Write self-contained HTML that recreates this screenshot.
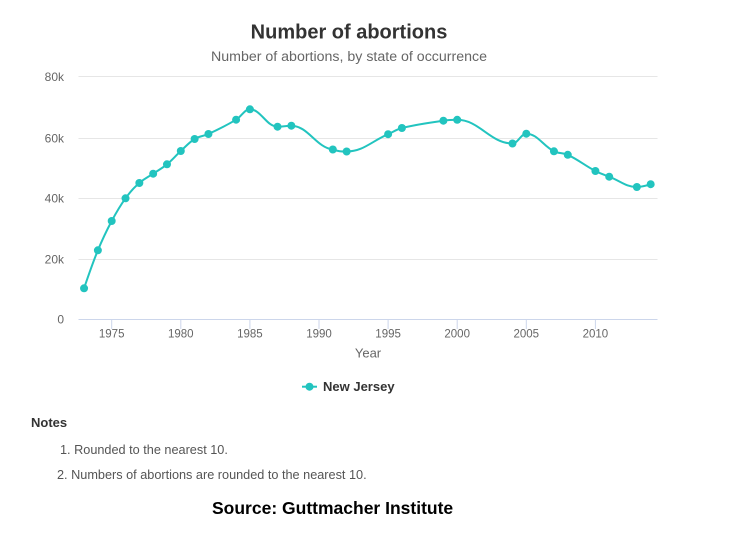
<!DOCTYPE html>
<html>
<head>
<meta charset="utf-8">
<style>
html,body{margin:0;padding:0;background:#fff;}
body{width:735px;height:534px;overflow:hidden;position:relative;font-family:"Liberation Sans",sans-serif;}
svg{position:absolute;left:0;top:0;}
</style>
</head>
<body>
<svg width="735" height="534" viewBox="0 0 735 534" xmlns="http://www.w3.org/2000/svg">
  <text x="349" y="38.3" text-anchor="middle" font-family="Liberation Sans, sans-serif" font-weight="bold" font-size="20" fill="#333">Number of abortions</text>
  <text x="349" y="61" text-anchor="middle" font-family="Liberation Sans, sans-serif" font-size="14.2" fill="#666">Number of abortions, by state of occurrence</text>

  <g stroke="#e6e6e6" stroke-width="1">
    <line x1="78.5" y1="76.5" x2="657.5" y2="76.5"/>
    <line x1="78.5" y1="138.5" x2="657.5" y2="138.5"/>
    <line x1="78.5" y1="198.5" x2="657.5" y2="198.5"/>
    <line x1="78.5" y1="259.5" x2="657.5" y2="259.5"/>
  </g>
  <line x1="78.5" y1="319.5" x2="657.5" y2="319.5" stroke="#ccd6eb" stroke-width="1"/>
  <g stroke="#ccd6eb" stroke-width="1">
    <line x1="111.7" y1="319.5" x2="111.7" y2="329"/>
    <line x1="180.8" y1="319.5" x2="180.8" y2="329"/>
    <line x1="249.9" y1="319.5" x2="249.9" y2="329"/>
    <line x1="319" y1="319.5" x2="319" y2="329"/>
    <line x1="388.1" y1="319.5" x2="388.1" y2="329"/>
    <line x1="457.2" y1="319.5" x2="457.2" y2="329"/>
    <line x1="526.3" y1="319.5" x2="526.3" y2="329"/>
    <line x1="595.4" y1="319.5" x2="595.4" y2="329"/>
  </g>

  <g font-family="Liberation Sans, sans-serif" font-size="12" fill="#666" text-anchor="end">
    <text x="64" y="81">80k</text>
    <text x="64" y="142.5">60k</text>
    <text x="64" y="202.5">40k</text>
    <text x="64" y="263.5">20k</text>
    <text x="64" y="323.5">0</text>
  </g>
  <g font-family="Liberation Sans, sans-serif" font-size="11.5" fill="#666" text-anchor="middle">
    <text x="111.7" y="337.5">1975</text>
    <text x="180.8" y="337.5">1980</text>
    <text x="249.9" y="337.5">1985</text>
    <text x="319" y="337.5">1990</text>
    <text x="388.1" y="337.5">1995</text>
    <text x="457.2" y="337.5">2000</text>
    <text x="526.3" y="337.5">2005</text>
    <text x="595.4" y="337.5">2010</text>
  </g>
  <text x="368" y="357.5" text-anchor="middle" font-family="Liberation Sans, sans-serif" font-size="13" fill="#666">Year</text>

  <path id="series" d="" fill="none" stroke="#22c4bf" stroke-width="2" stroke-linejoin="round" stroke-linecap="round"/>
  <g id="markers" fill="#22c4bf"></g>

  <line x1="302" y1="386.7" x2="317" y2="386.7" stroke="#22c4bf" stroke-width="2"/>
  <circle cx="309.5" cy="386.7" r="4" fill="#22c4bf"/>
  <text x="323" y="391.2" font-family="Liberation Sans, sans-serif" font-weight="bold" font-size="13" fill="#333">New Jersey</text>

  <text x="31" y="427" font-family="Liberation Sans, sans-serif" font-weight="bold" font-size="13" fill="#333">Notes</text>
  <text x="60" y="454" font-family="Liberation Sans, sans-serif" font-size="12.7" fill="#555">1. Rounded to the nearest 10.</text>
  <text x="57" y="479" font-family="Liberation Sans, sans-serif" font-size="12.7" fill="#555">2. Numbers of abortions are rounded to the nearest 10.</text>

  <text x="212" y="514" font-family="Liberation Sans, sans-serif" font-weight="bold" font-size="17.5" fill="#000">Source: Guttmacher Institute</text>
</svg>
<script>
(function(){
  var data=[[1973,288.3],[1974,250.3],[1975,221],[1976,198.3],[1977,183],[1978,173.7],[1979,164.3],[1980,151],[1981,139],[1982,134],[1984,119.7],[1985,109.3],[1987,126.7],[1988,125.7],[1991,149.5],[1992,151.5],[1995,134.2],[1996,128],[1999,120.7],[2000,119.8],[2004,143.5],[2005,133.7],[2007,151.3],[2008,154.8],[2010,171],[2011,176.7],[2013,187],[2014,184.2]];
  var pts=data.map(function(d){return {x:111.7+(d[0]-1975)*13.82,y:d[1]};});
  var sm=1.5,den=sm+1,d='';
  for(var i=0;i<pts.length;i++){
    var p=pts[i];
    if(i===0){d+='M'+p.x.toFixed(2)+' '+p.y.toFixed(2);continue;}
    var last=pts[i-1],lcx,lcy;
    if(i<pts.length-1){
      var nx=pts[i+1];
      lcx=(sm*p.x+last.x)/den; lcy=(sm*p.y+last.y)/den;
      var rcx=(sm*p.x+nx.x)/den, rcy=(sm*p.y+nx.y)/den, corr=0;
      if(rcx!==lcx){corr=((rcy-lcy)*(rcx-p.x))/(rcx-lcx)+p.y-rcy;}
      lcy+=corr; rcy+=corr;
      if(lcy>last.y&&lcy>p.y){lcy=Math.max(last.y,p.y);rcy=2*p.y-lcy;}
      else if(lcy<last.y&&lcy<p.y){lcy=Math.min(last.y,p.y);rcy=2*p.y-lcy;}
      if(rcy>nx.y&&rcy>p.y){rcy=Math.max(nx.y,p.y);lcy=2*p.y-rcy;}
      else if(rcy<nx.y&&rcy<p.y){rcy=Math.min(nx.y,p.y);lcy=2*p.y-rcy;}
      p.rcx=rcx;p.rcy=rcy;
    } else {lcx=p.x;lcy=p.y;}
    var a=(last.rcx!==undefined)?last.rcx:last.x, b=(last.rcy!==undefined)?last.rcy:last.y;
    d+=' C'+a.toFixed(2)+' '+b.toFixed(2)+' '+lcx.toFixed(2)+' '+lcy.toFixed(2)+' '+p.x.toFixed(2)+' '+p.y.toFixed(2);
  }
  document.getElementById('series').setAttribute('d',d);
  var g=document.getElementById('markers'),ns='http://www.w3.org/2000/svg';
  pts.forEach(function(p){var c=document.createElementNS(ns,'circle');c.setAttribute('cx',p.x);c.setAttribute('cy',p.y);c.setAttribute('r','4');g.appendChild(c);});
})();
</script>
</body>
</html>
